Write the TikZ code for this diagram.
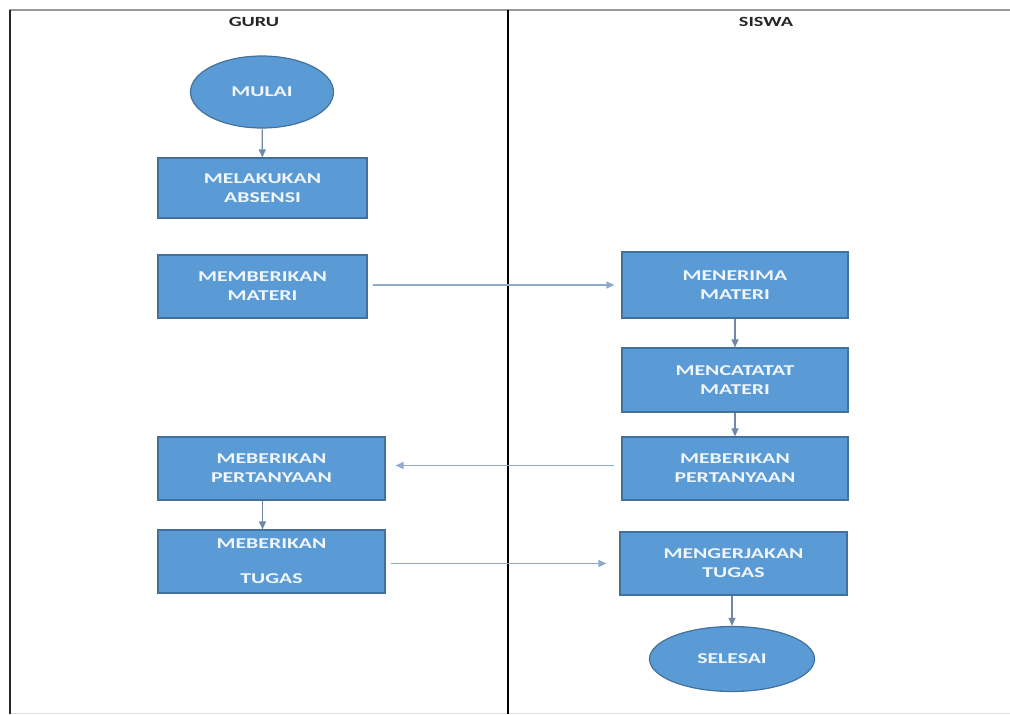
\documentclass[tikz,border=0pt]{standalone}
\usepackage{fontspec}
\setmainfont{Carlito}
\newfontfamily\flowfont{Carlito}[FakeStretch=1.45]
\usetikzlibrary{arrows.meta,shapes.geometric}
\definecolor{boxblue}{HTML}{5B9BD5}
\definecolor{boxedge}{HTML}{41719C}
\definecolor{boxtext}{HTML}{F0F6FC}
\definecolor{arrowblue}{HTML}{8FAACC}
\definecolor{arrowgray}{HTML}{7088A8}
\begin{document}
\begin{tikzpicture}[x=1pt, y=-1pt, >={Triangle[length=8pt,width=7pt]},
  % Process boxes
  bluebox/.style={draw=boxedge, line width=1.2pt, fill=boxblue, text=boxtext,
                  minimum width=209pt, minimum height=62pt, inner sep=0pt,
                  align=center, font=\flowfont\bfseries\fontsize{15}{19}\selectfont},
  widebox/.style={bluebox, minimum width=227pt},
  % Start and end
  blueoval/.style={ellipse, draw=boxedge, line width=1.2pt, fill=boxblue, text=boxtext,
                   inner sep=0pt, font=\flowfont\bfseries\fontsize{15}{19}\selectfont},
  lanehead/.style={font=\flowfont\bfseries\fontsize{14}{16}\selectfont, text=black!85},
  flowarrow/.style={->, draw=arrowblue, fill=arrowblue, line width=1.3pt},
  downarrow/.style={->, draw=arrowgray, fill=arrowgray, line width=1.1pt}
]
  \useasboundingbox (0,0) rectangle (1010,715);

  % Swimlane frame
  \draw[gray!80, line width=2pt] (9,10) -- (1010,10);
  \draw[gray!25, line width=1pt] (9,713) -- (1010,713);
  \draw[black!85, line width=2pt] (9.5,10) -- (9.5,714);
  \draw[black, line width=1.2pt] (508,10) -- (508,714);
  \node[lanehead] (guru) at (254,22) {GURU};
  \node[lanehead] (siswa) at (766,22) {SISWA};

  % Guru lane
  \node[blueoval, minimum width=143pt, minimum height=72pt] (mulai) at (262,92) {MULAI};
  \node[bluebox, minimum height=60pt] (absensi) at (262.5,188) {MELAKUKAN\\ABSENSI};
  \node[bluebox, minimum height=63pt] (materi) at (262.5,286.5) {MEMBERIKAN\\MATERI};
  \node[widebox, minimum height=63pt] (tanyaguru) at (271.5,468.5) {MEBERIKAN\\PERTANYAAN};
  \node[widebox, minimum height=63pt] (tugas) at (271.5,561.5) {MEBERIKAN\\[16pt]TUGAS};

  % Siswa lane
  \node[widebox, minimum width=226pt, minimum height=66pt] (terima) at (735,285) {MENERIMA\\MATERI};
  \node[widebox, minimum width=226pt, minimum height=64pt] (catat) at (735,380) {MENCATATAT\\MATERI};
  \node[widebox, minimum width=226pt, minimum height=63pt] (tanyasiswa) at (735,468.5) {MEBERIKAN\\PERTANYAAN};
  \node[widebox, minimum height=63pt] (kerjakan) at (733.5,563.5) {MENGERJAKAN\\TUGAS};
  \node[blueoval, minimum width=165pt, minimum height=65pt] (selesai) at (732,659) {SELESAI};

  % Vertical steps
  \draw[downarrow] (mulai) -- (absensi);
  \draw[downarrow] (tanyaguru.south -| materi) -- (tugas.north -| materi);
  \draw[downarrow] (terima) -- (catat);
  \draw[downarrow] (catat) -- (tanyasiswa);
  \draw[downarrow] (kerjakan.south -| selesai) -- (selesai);

  % Between the lanes
  \draw[flowarrow, shorten <=5pt, shorten >=7pt] (materi.east |- terima) -- (terima.west);
  \draw[flowarrow, shorten <=7pt, shorten >=10pt] ([yshift=3pt]tanyasiswa.west) -- ([yshift=3pt]tanyaguru.east);
  \draw[flowarrow, shorten <=5pt, shorten >=13pt] ([yshift=-2pt]tugas.east) -- ([yshift=-2pt]tugas.east -| kerjakan.west);
\end{tikzpicture}
\end{document}
